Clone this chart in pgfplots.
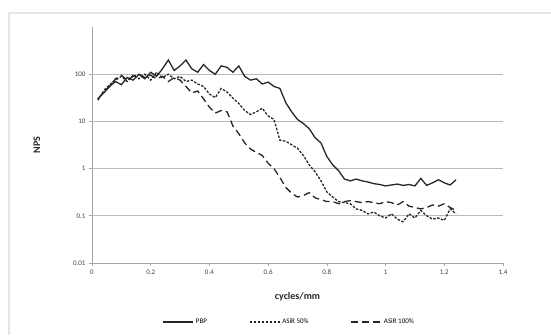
\documentclass[border=0pt]{standalone}
\usepackage{pgfplots}
\usepackage{pgfplotstable}
\pgfplotsset{compat=1.18}
\usepackage{fontspec}
\setmainfont{Carlito}

\pgfplotstableread{
x y
0.02 30
0.04 40
0.06 55
0.08 70
0.10 60
0.12 85
0.14 75
0.16 100
0.18 80
0.20 110
0.22 90
0.24 130
0.26 200
0.28 120
0.30 150
0.32 200
0.34 130
0.36 110
0.38 160
0.40 120
0.42 100
0.44 150
0.46 140
0.48 110
0.50 150
0.52 90
0.54 75
0.56 80
0.58 62
0.60 68
0.62 55
0.64 50
0.66 25
0.68 16
0.70 11
0.72 9
0.74 7
0.76 4.5
0.78 3.5
0.80 1.8
0.82 1.2
0.84 0.9
0.86 0.6
0.88 0.55
0.90 0.6
0.92 0.55
0.94 0.52
0.96 0.48
0.98 0.46
1.00 0.43
1.02 0.45
1.04 0.47
1.06 0.44
1.08 0.46
1.10 0.43
1.12 0.62
1.14 0.44
1.16 0.50
1.18 0.58
1.20 0.50
1.22 0.45
1.24 0.58
}\pbp

\pgfplotstableread{
x y
0.02 28
0.04 45
0.06 60
0.08 75
0.10 90
0.12 70
0.14 95
0.16 80
0.18 100
0.20 75
0.22 110
0.24 85
0.26 100
0.28 80
0.30 90
0.32 70
0.34 75
0.36 62
0.38 55
0.40 38
0.42 32
0.44 50
0.46 42
0.48 31
0.50 24
0.52 17
0.54 14
0.56 16
0.58 19
0.60 13
0.62 11
0.64 4
0.66 3.8
0.68 3.2
0.70 2.7
0.72 1.9
0.74 1.2
0.76 0.85
0.78 0.55
0.80 0.32
0.82 0.25
0.84 0.2
0.86 0.19
0.88 0.18
0.90 0.14
0.92 0.13
0.94 0.11
0.96 0.12
0.98 0.1
1.00 0.09
1.02 0.11
1.04 0.085
1.06 0.075
1.08 0.11
1.10 0.09
1.12 0.13
1.14 0.1
1.16 0.085
1.18 0.09
1.20 0.08
1.22 0.14
1.24 0.11
}\asirA

\pgfplotstableread{
x y
0.02 30
0.04 42
0.06 55
0.08 80
0.10 95
0.12 75
0.14 90
0.16 100
0.18 85
0.20 95
0.22 80
0.24 90
0.26 70
0.28 85
0.30 75
0.32 55
0.34 40
0.36 44
0.38 30
0.40 20
0.42 15
0.44 17
0.46 16
0.48 8
0.50 5.5
0.52 3.5
0.54 2.6
0.56 2.2
0.58 1.9
0.60 1.3
0.62 1.0
0.64 0.65
0.66 0.4
0.68 0.3
0.70 0.25
0.72 0.27
0.74 0.31
0.76 0.24
0.78 0.22
0.80 0.2
0.82 0.2
0.84 0.18
0.86 0.2
0.88 0.21
0.90 0.2
0.92 0.19
0.94 0.2
0.96 0.19
0.98 0.18
1.00 0.2
1.02 0.19
1.04 0.17
1.06 0.2
1.08 0.16
1.10 0.15
1.12 0.14
1.14 0.15
1.16 0.17
1.18 0.16
1.20 0.18
1.22 0.15
1.24 0.13
}\asirB

\begin{document}
\begin{tikzpicture}[x=1pt,y=1pt]
\useasboundingbox (0,0) rectangle (551,335);
\draw[gray!20, line width=2.5pt] (9,0) -- (9,322) -- (551,322);
\begin{axis}[
  at={(92pt,72pt)}, anchor=south west,
  scale only axis, width=411pt, height=236pt,
  xmin=0, xmax=1.4, ymode=log, ymin=0.01, ymax=1000,
  xtick={0,0.2,...,1.4},
  xticklabels={0,0.2,0.4,0.6,0.8,1,1.2,1.4},
  ytick={0.01,0.1,1,10,100},
  yticklabels={0.01,0.1,1,10,100},
  axis x line*=bottom, axis y line*=left,
  axis line style={gray!70, line width=0.9pt, -},
  tick style={gray!70, line width=0.7pt},
  tick align=outside, major tick length=3pt,
  minor tick num=0, yminorticks=false,
  extra y ticks={0.1,1,10,100}, extra y tick labels={},
  extra y tick style={grid=major, major grid style={gray!55, line width=1pt}, tick style={draw=none}},
  tick label style={font=\fontsize{7}{8}\selectfont, text=black!75},
  /pgf/number format/assume math mode=true,
  xlabel={\bfseries cycles/mm}, ylabel={\bfseries NPS},
  label style={font=\fontsize{10}{12}\selectfont, text=black!85},
  xlabel style={at={(axis description cs:0.5,0)}, anchor=center, yshift=-34pt},
  ylabel style={at={(axis description cs:0,0.5)}, anchor=center, yshift=55pt},
  legend columns=3,
  legend style={draw=none, fill=none, at={(0.48,-0.25)}, anchor=center,
    font=\fontsize{7}{8}\selectfont, /tikz/every even column/.append style={column sep=40pt}},
  legend image code/.code={\draw[#1] (0pt,0pt) -- (30pt,0pt);},
  clip=false,
]
\addplot[black!85, line width=1.3pt] table[x=x,y=y]{\pbp};
\addlegendentry{PBP}
\addplot[black!85, line width=1.3pt, dash pattern=on 2.5pt off 1.5pt] table[x=x,y=y]{\asirA};
\addlegendentry{ASiR 50\%}
\addplot[black!85, line width=1.3pt, dash pattern=on 7pt off 4pt] table[x=x,y=y]{\asirB};
\addlegendentry{ASiR 100\%}
\end{axis}
\end{tikzpicture}
\end{document}
